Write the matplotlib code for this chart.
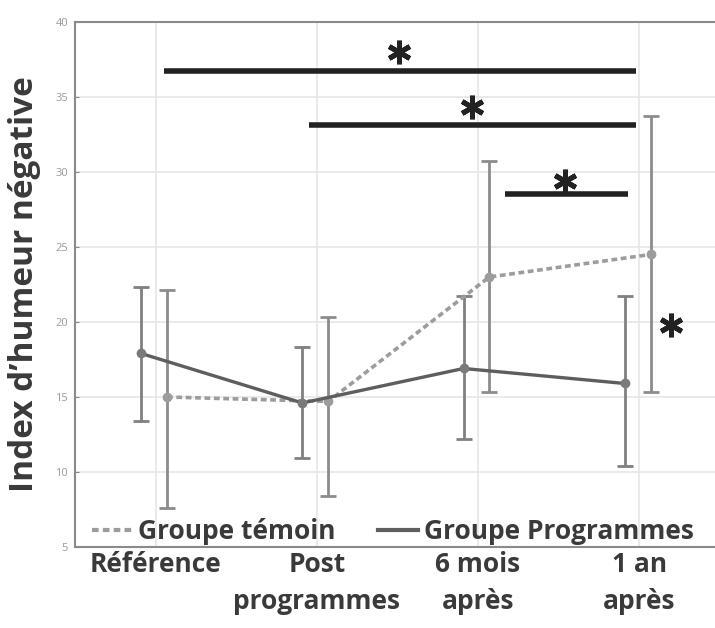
import matplotlib
matplotlib.use("Agg")
import matplotlib.pyplot as plt
import numpy as np

categories = ["Référence", "Post\nprogrammes", "6 mois\naprès", "1 an\naprès"]

prog_mean = [17.9, 14.6, 16.9, 15.9]
prog_upper = [22.3, 18.3, 21.7, 21.7]
prog_lower = [13.4, 10.9, 12.2, 10.4]

ctrl_mean = [15.0, 14.7, 23.0, 24.5]
ctrl_upper = [22.1, 20.3, 30.7, 33.7]
ctrl_lower = [7.6, 8.4, 15.3, 15.3]

# significance brackets: (start, end, height)
sig_bars = [(0.05, 2.98, 36.7), (0.95, 2.98, 33.1), (2.17, 2.93, 28.5)]
# significance stars: (x, y)
sig_stars = [(1.51, 38.0), (1.96, 34.3), (2.54, 29.4), (3.2, 19.8)]
yticks = [5, 10, 15, 20, 25, 30, 35, 40]

plt.rcParams["font.family"] = ["Open Sans", "DejaVu Sans"]

fig = plt.figure(figsize=(7.15, 6.28), dpi=100)
ax = fig.add_axes([0.105, 0.129, 0.895, 0.836])

x = np.arange(len(categories))
xp = x - 0.09
xc = x + 0.07

pm = np.array(prog_mean)
cm = np.array(ctrl_mean)
p_err = [pm - np.array(prog_lower), np.array(prog_upper) - pm]
c_err = [cm - np.array(ctrl_lower), np.array(ctrl_upper) - cm]

ax.errorbar(xp, pm, yerr=p_err, fmt="none", ecolor="#808080", elinewidth=2.0,
            capsize=6, capthick=2.0, zorder=3)
ax.errorbar(xc, cm, yerr=c_err, fmt="none", ecolor="#8c8c8c", elinewidth=2.0,
            capsize=6, capthick=2.0, zorder=3)

ax.plot(xc, cm, linestyle=(0, (1.6, 1.0)), color="#9c9c9c", linewidth=2.6,
        marker="o", markersize=6, markerfacecolor="#9c9c9c",
        markeredgecolor="#9c9c9c", zorder=4, label="Groupe témoin")
ax.plot(xp, pm, linestyle="-", color="#5e5e5e", linewidth=2.4,
        marker="o", markersize=6, markerfacecolor="#7a7a7a",
        markeredgecolor="#7a7a7a", zorder=5, label="Groupe Programmes")

for x0, x1, yv in sig_bars:
    ax.plot([x0, x1], [yv, yv], color="#222222", linewidth=4, solid_capstyle="butt", zorder=6)
for sx, sy in sig_stars:
    ax.plot([sx], [sy], linestyle="none", marker=(6, 2, 0), markersize=17,
            markeredgewidth=3.6, color="#222222", zorder=6)

ax.set_xlim(-0.5, 3.47)
ax.set_ylim(5, 40)
ax.set_xticks(x)
ax.set_xticklabels(categories, fontsize=19, fontweight="bold", color="#3a3a3a",
                   linespacing=1.45)
ax.set_yticks(yticks)
ax.set_yticklabels([str(v) for v in yticks], fontsize=8, color="#9a9a9a")
ax.tick_params(axis="x", length=0, pad=3)
ax.tick_params(axis="y", length=3, color="#888888", direction="in", pad=5)
ax.grid(True, color="#e6e6e6", linewidth=1.2)
ax.set_axisbelow(True)

for side in ["left", "bottom", "top"]:
    ax.spines[side].set_color("#8a8a8a")
    ax.spines[side].set_linewidth(1.5)
ax.spines["right"].set_visible(False)

ax.set_ylabel("Index d\u2019humeur négative", fontsize=24, fontweight="bold",
              color="#3a3a3a", labelpad=10)

leg = ax.legend(loc="lower left", ncol=2, frameon=False,
                prop={"weight": "bold", "size": 19}, handlelength=1.5,
                handletextpad=0.25, columnspacing=1.6, borderaxespad=0.0,
                bbox_to_anchor=(0.01, -0.016))
for h in leg.get_lines():
    h.set_marker("")
    h.set_linewidth(3)
for t in leg.get_texts():
    t.set_color("#3a3a3a")

fig.savefig("out.png", dpi=100)
